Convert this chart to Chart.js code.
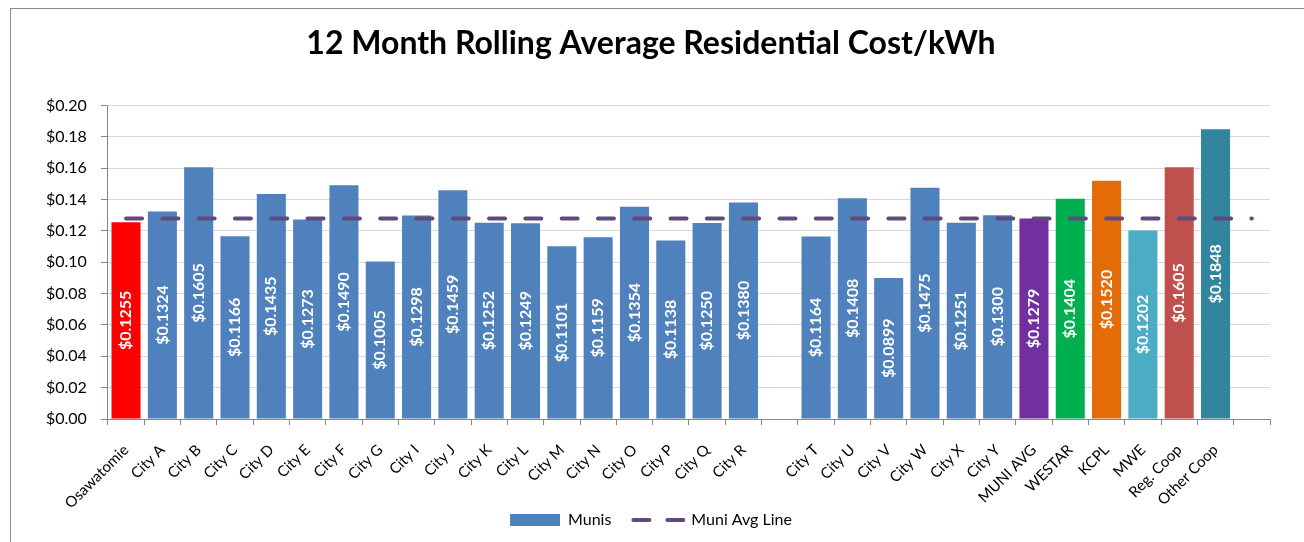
<!DOCTYPE html>
<html>
<head>
<meta charset="utf-8">
<script src="https://cdn.jsdelivr.net/npm/chart.js@4.4.1/dist/chart.umd.min.js"></script>
<style>
 html, body { margin: 0; padding: 0; background: #fff; }
 #wrap { position: relative; width: 1304px; height: 542px; }
</style>
</head>
<body>
<div id="wrap"><canvas id="costChart" width="1304" height="542"></canvas></div>
<script>
// chart values
const places = ['Osawatomie', 'City A', 'City B', 'City C', 'City D', 'City E', 'City F', 'City G', 'City I',
 'City J', 'City K', 'City L', 'City M', 'City N', 'City O', 'City P', 'City Q', 'City R', '',
 'City T', 'City U', 'City V', 'City W', 'City X', 'City Y', 'MUNI AVG', 'WESTAR', 'KCPL', 'MWE',
 'Reg. Coop', 'Other Coop', ''];
const costs = [0.1255, 0.1324, 0.1605, 0.1166, 0.1435, 0.1273, 0.1490, 0.1005, 0.1298,
 0.1459, 0.1252, 0.1249, 0.1101, 0.1159, 0.1354, 0.1138, 0.1250, 0.1380, null,
 0.1164, 0.1408, 0.0899, 0.1475, 0.1251, 0.1300, 0.1279, 0.1404, 0.1520, 0.1202,
 0.1605, 0.1848, null];
const muniAvg = 0.1279;
const yTicks = [0, 0.02, 0.04, 0.06, 0.08, 0.10, 0.12, 0.14, 0.16, 0.18, 0.20];

const blue = '#4F81BD';
const specialColors = { 'Osawatomie': '#FF0000', 'MUNI AVG': '#7030A0', 'WESTAR': '#00B050',
 'KCPL': '#E36C09', 'MWE': '#4BACC6', 'Reg. Coop': '#C0504D', 'Other Coop': '#31859C' };
const barColors = places.map(p => specialColors[p] || blue);
const lineColor = '#604A7B';
const font = 'Lato';

// white rotated value labels inside bars
const barLabels = {
 id: 'barLabels',
 afterDraw(chart) {
  const ctx = chart.ctx;
  const meta = chart.getDatasetMeta(1);
  ctx.save();
  ctx.font = 'bold 16px ' + font;
  ctx.fillStyle = '#fff';
  ctx.textAlign = 'center';
  ctx.textBaseline = 'middle';
  meta.data.forEach((bar, i) => {
   if (costs[i] == null) return;
   ctx.save();
   ctx.translate(bar.x, (bar.y + bar.base) / 2);
   ctx.rotate(-Math.PI / 2);
   ctx.fillText('$' + costs[i].toFixed(4), 0, 0);
   ctx.restore();
  });
  ctx.restore();
 }
};

// grey frame round the chart; also let the x labels run past the axis box
const frame = {
 id: 'frame',
 afterLayout(chart) {
  chart.scales.x.bottom = chart.height;
 },
 beforeDraw(chart) {
  const ctx = chart.ctx;
  ctx.save();
  ctx.strokeStyle = '#8c8c8c';
  ctx.lineWidth = 1;
  ctx.strokeRect(10.5, 8.5, 1310, 560);
  ctx.restore();
 }
};

new Chart(document.getElementById('costChart'), {
 data: {
  labels: places,
  datasets: [
   {
    type: 'line',
    label: 'Muni Avg Line',
    data: places.map(() => muniAvg),
    borderColor: lineColor,
    borderWidth: 4,
    borderDash: [16, 20.3],
    borderCapStyle: 'round',
    pointRadius: 0,
    order: 0
   },
   {
    type: 'bar',
    label: 'Munis',
    data: costs,
    backgroundColor: barColors,
    barPercentage: 0.8,
    categoryPercentage: 1,
    order: 1
   }
  ]
 },
 options: {
  responsive: false,
  animation: false,
  layout: { padding: { top: 24, left: 32, right: 34, bottom: 4 } },
  plugins: {
   title: {
    display: true,
    text: '12 Month Rolling Average Residential Cost/kWh',
    color: '#000',
    font: { family: font, size: 32, weight: 'bold' },
    padding: { top: 0, bottom: 43 }
   },
   legend: {
    position: 'bottom',
    labels: {
     color: '#000',
     font: { family: font, size: 16 },
     usePointStyle: true,
     pointStyleWidth: 50,
     boxHeight: 12,
     padding: 22,
     generateLabels() {
      return [
       { text: 'Munis', fillStyle: blue, strokeStyle: blue, lineWidth: 0, pointStyle: 'rect', datasetIndex: 1 },
       { text: 'Muni Avg Line', fillStyle: lineColor, strokeStyle: lineColor, lineWidth: 4,
        lineDash: [16, 18], lineCap: 'round', pointStyle: 'line', datasetIndex: 0 }
      ];
     }
    }
   },
   tooltip: { enabled: false }
  },
  scales: {
   x: {
    afterFit(scale) { scale.height = 71; },
    grid: { display: true, drawOnChartArea: false, drawTicks: true, tickLength: 6, color: '#868686' },
    border: { color: '#868686' },
    ticks: {
     autoSkip: false, minRotation: 45, maxRotation: 45,
     color: '#000', font: { family: font, size: 15 }, padding: 16
    }
   },
   y: {
    min: 0,
    max: 0.2,
    afterBuildTicks(scale) { scale.ticks = yTicks.map(v => ({ value: v })); },
    grid: { color: '#D9D9D9', tickLength: 7, tickColor: '#868686' },
    border: { color: '#868686' },
    ticks: {
     color: '#000', font: { family: font, size: 16 }, padding: 14,
     callback: v => '$' + Number(v).toFixed(2)
    }
   }
  }
 },
 plugins: [frame, barLabels]
});
</script>
</body>
</html>
